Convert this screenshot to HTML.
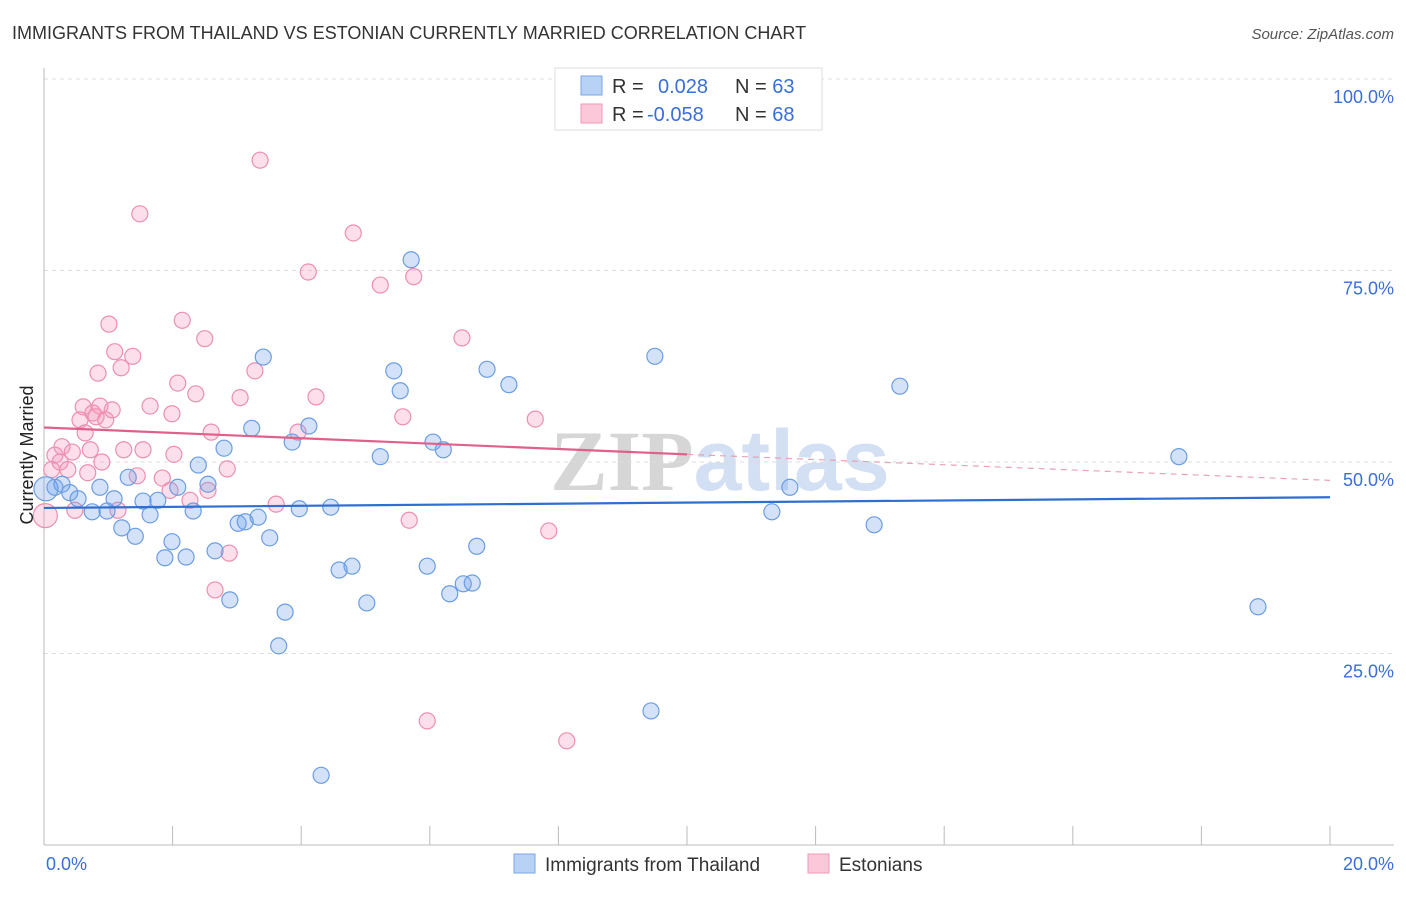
<!DOCTYPE html>
<html><head><meta charset="utf-8"><style>
body{margin:0;background:#fff;font-family:"Liberation Sans",sans-serif;}
svg text{font-family:"Liberation Sans",sans-serif;}
</style></head><body>
<svg id="chart" width="1406" height="892">
<text x="12" y="39" font-size="18" fill="#333">IMMIGRANTS FROM THAILAND VS ESTONIAN CURRENTLY MARRIED CORRELATION CHART</text>
<text x="1394" y="39" font-size="15" fill="#555" font-style="italic" text-anchor="end">Source: ZipAtlas.com</text>
<text x="720" y="490" font-size="86" text-anchor="middle" font-weight="bold"><tspan fill="#d6d6d6" font-family="Liberation Serif">ZIP</tspan><tspan fill="#d3e0f3">atlas</tspan></text>
<g id="grid"></g><g id="axes"></g><g id="marks"></g>
<text transform="translate(33,455) rotate(-90)" font-size="18" fill="#222" text-anchor="middle">Currently Married</text>
<g>
<rect x="555" y="68" width="267" height="62" fill="#fff" stroke="#ddd"/>
<rect x="581" y="76" width="21" height="19" fill="#b8d2f5" stroke="#7aa6e6"/>
<rect x="581" y="104" width="21" height="19" fill="#fac8d8" stroke="#ee9ab6"/>
<text x="612" y="93" font-size="20" fill="#333">R = <tspan x="658" fill="#3a6fd8">0.028</tspan><tspan x="735" fill="#333">N = </tspan><tspan fill="#3a6fd8">63</tspan></text>
<text x="612" y="121" font-size="20" fill="#333">R = <tspan x="647" fill="#3a6fd8">-0.058</tspan><tspan x="735" fill="#333">N = </tspan><tspan fill="#3a6fd8">68</tspan></text>
</g>
<g>
<rect x="514" y="854" width="21" height="19" fill="#b8d2f5" stroke="#7aa6e6"/>
<text x="545" y="871" font-size="19" fill="#333">Immigrants from Thailand</text>
<rect x="808" y="854" width="21" height="19" fill="#fac8d8" stroke="#ee9ab6"/>
<text x="839" y="871" font-size="19" fill="#333">Estonians</text>
</g>
</svg>
<script>
const blueX=[0.17,0.28,0.40,0.53,0.75,0.87,0.98,1.09,1.21,1.31,1.42,1.54,1.65,1.77,1.88,1.99,2.08,2.21,2.32,2.40,2.55,2.66,2.80,2.89,3.02,3.13,3.23,3.33,3.41,3.51,3.65,3.75,3.86,3.97,4.12,4.31,4.46,4.59,4.79,5.02,5.23,5.44,5.54,5.71,5.96,6.05,6.21,6.31,6.52,6.66,6.73,6.89,7.23,9.44,9.50,11.32,11.60,12.91,13.31,17.65,18.88,0.03];
const blueY=[46.7,47.1,46.0,45.2,43.5,46.7,43.6,45.2,41.4,48.0,40.3,44.9,43.1,45.0,37.5,39.6,46.7,37.6,43.6,49.6,47.1,38.4,51.8,32.0,42.0,42.2,54.4,42.8,63.7,40.1,26.0,30.4,52.6,43.9,54.7,9.1,44.1,35.9,36.4,31.6,50.7,61.9,59.3,76.4,36.4,52.6,51.6,32.8,34.1,34.2,39.0,62.1,60.1,17.5,63.8,43.5,46.7,41.8,59.9,50.7,31.1,46.5];
const pinkX=[0.02,0.12,0.17,0.25,0.28,0.37,0.44,0.48,0.56,0.61,0.64,0.68,0.72,0.76,0.81,0.84,0.87,0.90,0.96,1.01,1.06,1.10,1.15,1.20,1.24,1.38,1.45,1.49,1.54,1.65,1.84,1.96,1.99,2.02,2.08,2.15,2.27,2.36,2.50,2.55,2.60,2.66,2.85,2.88,3.05,3.28,3.36,3.61,3.95,4.11,4.23,4.81,5.23,5.58,5.68,5.75,5.96,6.50,7.64,7.85,8.13];
const pinkY=[43.0,49.0,50.9,50.0,52.0,49.0,51.3,43.7,55.5,57.2,53.8,48.6,51.6,56.4,55.9,61.6,57.3,50.0,55.5,68.0,56.8,64.4,43.7,62.3,51.6,63.8,48.2,82.4,51.6,57.3,47.9,46.3,56.3,51.0,60.3,68.5,45.0,58.9,66.1,46.3,53.9,33.3,49.1,38.1,58.4,61.9,89.4,44.5,53.9,74.8,58.5,79.9,73.1,55.9,42.4,74.2,16.2,66.2,55.6,41.0,13.6];
const blueTrend=[[0,44.0],[20,45.4]];
const pinkTrend=[[0,54.5],[10,51.0],[20,47.6]];
const yTicks=[25,50,75,100];
const xTickLabels=["0.0%","20.0%"];
const NS="http://www.w3.org/2000/svg";
const X=v=>44+v/20*1286, Y=v=>845-v/100*766;
function mk(tag,attrs,parent){const e=document.createElementNS(NS,tag);for(const k in attrs)e.setAttribute(k,attrs[k]);parent.appendChild(e);return e;}
const grid=document.getElementById('grid'),axes=document.getElementById('axes'),marks=document.getElementById('marks');
yTicks.forEach(t=>{
 const l=mk('line',{x1:44,x2:1394,y1:Y(t),y2:Y(t),stroke:'#ddd','stroke-dasharray':'4,4'},grid);
 
 
 const tx=mk('text',{x:1394,y:Y(t)+24,'font-size':18,fill:'#3a6fd8','text-anchor':'end'},axes);
 tx.textContent=t.toFixed(1)+'%';
 
 
});
const xa=mk('line',{x1:44,x2:1394,y1:845,y2:845,stroke:'#bbb'},axes);


const ya=mk('line',{x1:44,x2:44,y1:68,y2:845,stroke:'#bbb'},axes);


for(let i=0;i<=10;i++){
 const t=mk('line',{x1:X(i*2),x2:X(i*2),y1:826,y2:845,stroke:'#bbb'},axes);
 
 
}
[[0,'start',46],[1,'end',1394]].forEach(([i,a,x])=>{
 const t=mk('text',{x:x,y:870,'font-size':18,fill:'#3a6fd8','text-anchor':a},axes);
 t.textContent=xTickLabels[i];
 
 
});
function dots(xs,ys,fill,stroke,name,bigIdx){
 xs.forEach((v,i)=>{
  const c=mk('circle',{cx:X(v),cy:Y(ys[i]),r:i===bigIdx?12:8,fill:fill,stroke:stroke,'stroke-width':1.2},marks);
  
  
 });
}
dots(pinkX,pinkY,'rgba(244,150,185,0.3)','#ec8fb0','estonians-point',0);
dots(blueX,blueY,'rgba(110,160,235,0.3)','#6b9de3','thailand-point',blueX.length-1);
const bt=mk('line',{x1:X(blueTrend[0][0]),y1:Y(blueTrend[0][1]),x2:X(blueTrend[1][0]),y2:Y(blueTrend[1][1]),stroke:'#2f6fd1','stroke-width':2.2},marks);


const pt=mk('line',{x1:X(pinkTrend[0][0]),y1:Y(pinkTrend[0][1]),x2:X(pinkTrend[1][0]),y2:Y(pinkTrend[1][1]),stroke:'#e0608a','stroke-width':2.2},marks);


const pd=mk('line',{x1:X(pinkTrend[1][0]),y1:Y(pinkTrend[1][1]),x2:X(pinkTrend[2][0]),y2:Y(pinkTrend[2][1]),stroke:'#e9a0b8','stroke-width':1.2,'stroke-dasharray':'6,5'},marks);


</script>
</body></html>
